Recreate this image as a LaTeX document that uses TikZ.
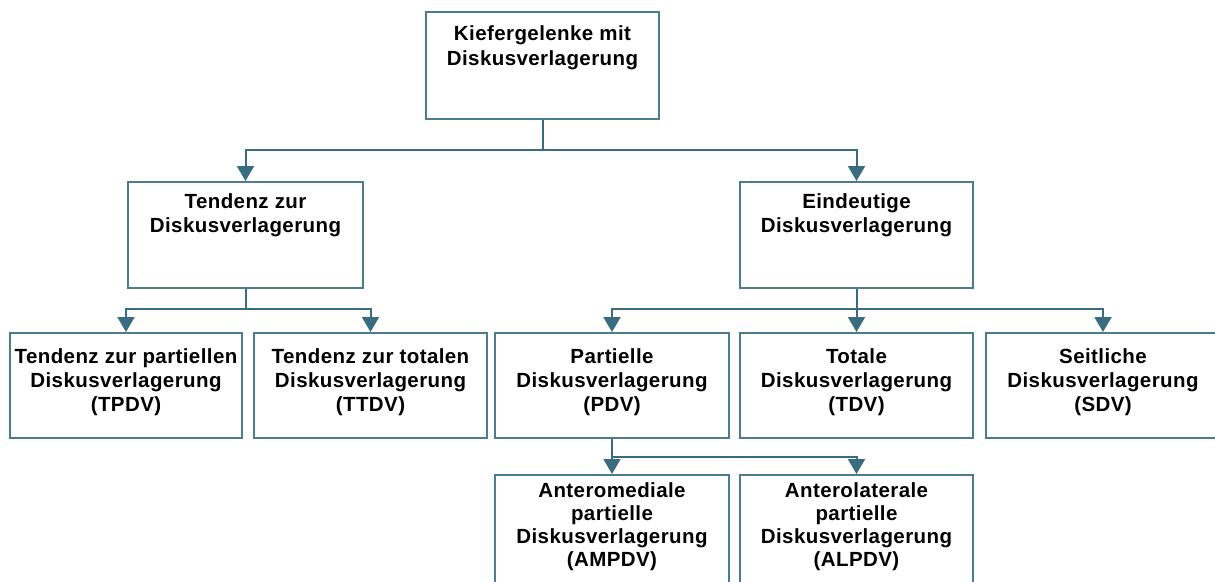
\documentclass[tikz,border=0pt]{standalone}
\usepackage{fontspec}
\newfontfamily\boxfont{Liberation Sans}[LetterSpace=2]
\usetikzlibrary{arrows.meta}
\definecolor{boxline}{HTML}{4D7C8F}
\definecolor{connline}{HTML}{3A6C80}
\tikzset{
  box/.style={draw=boxline, line width=2pt, fill=white, rectangle, inner sep=0pt},
  boxtxt/.style={anchor=north, inner sep=0pt, align=center,
    font=\boxfont\bfseries\fontsize{20.5pt}{24.5pt}\selectfont},
  tighttxt/.style={boxtxt, font=\boxfont\bfseries\fontsize{20.5pt}{23pt}\selectfont},
  conn/.style={draw=connline, line width=2pt,
    -{Triangle[length=15pt,width=17pt]}},
  plain/.style={draw=connline, line width=2pt}
}
\begin{document}
\begin{tikzpicture}[x=1pt,y=-1pt]
\useasboundingbox (0,0) rectangle (1215,581);

% boxes
\node[box, minimum width=233pt, minimum height=107pt] (root) at (542.5,65.5) {};
\node[box, minimum width=235pt, minimum height=106pt] (tend) at (245.5,235) {};
\node[box, minimum width=233pt, minimum height=106pt] (eind) at (856.5,235) {};
\node[box, minimum width=232pt, minimum height=105pt] (tpdv) at (126,385.5) {};
\node[box, minimum width=233pt, minimum height=105pt] (ttdv) at (370.5,385.5) {};
\node[box, minimum width=234pt, minimum height=105pt] (pdv) at (612,385.5) {};
\node[box, minimum width=233pt, minimum height=105pt] (tdv) at (856.5,385.5) {};
\node[box, minimum width=234pt, minimum height=105pt] (sdv) at (1103,385.5) {};
\node[box, minimum width=234pt, minimum height=112pt] (ampdv) at (612,531) {};
\node[box, minimum width=233pt, minimum height=112pt] (alpdv) at (856.5,531) {};

% labels
\node[boxtxt] (rootT) at ([yshift=-14.5pt]root.north) {Kiefergelenke mit\\Diskusverlagerung};
\node[boxtxt] (tendT) at ([yshift=-12pt]tend.north) {Tendenz zur\\Diskusverlagerung};
\node[boxtxt] (eindT) at ([yshift=-12pt]eind.north) {Eindeutige\\Diskusverlagerung};
\node[boxtxt, font=\boxfont\bfseries\fontsize{20.5pt}{24pt}\selectfont] (tpdvT) at ([yshift=-16pt]tpdv.north) {Tendenz zur partiellen\\Diskusverlagerung\\(TPDV)};
\node[boxtxt, font=\boxfont\bfseries\fontsize{20.5pt}{24pt}\selectfont] (ttdvT) at ([yshift=-16pt]ttdv.north) {Tendenz zur totalen\\Diskusverlagerung\\(TTDV)};
\node[boxtxt, font=\boxfont\bfseries\fontsize{20.5pt}{24pt}\selectfont] (pdvT) at ([yshift=-16pt]pdv.north) {Partielle\\Diskusverlagerung\\(PDV)};
\node[boxtxt, font=\boxfont\bfseries\fontsize{20.5pt}{24pt}\selectfont] (tdvT) at ([yshift=-16pt]tdv.north) {Totale\\Diskusverlagerung\\(TDV)};
\node[boxtxt, font=\boxfont\bfseries\fontsize{20.5pt}{24pt}\selectfont] (sdvT) at ([yshift=-16pt]sdv.north) {Seitliche\\Diskusverlagerung\\(SDV)};
\node[tighttxt] (ampdvT) at ([yshift=-8pt]ampdv.north) {Anteromediale\\partielle\\Diskusverlagerung\\(AMPDV)};
\node[tighttxt] (alpdvT) at ([yshift=-8pt]alpdv.north) {Anterolaterale\\partielle\\Diskusverlagerung\\(ALPDV)};

% bus junctions
\coordinate (busA) at (542.5,150);
\coordinate (busB) at (245.5,309);
\coordinate (busC) at (856.5,309);
\coordinate (busD) at (612,457);

% connectors
\draw[plain] (root.south) -- (busA);
\draw[conn] (busA) -| (tend.north);
\draw[conn] (busA) -| (eind.north);

\draw[plain] (tend.south) -- (busB);
\draw[conn] (busB) -| (tpdv.north);
\draw[conn] (busB) -| (ttdv.north);

\draw[conn] (eind.south) -- (tdv.north);
\draw[conn] (busC) -| (pdv.north);
\draw[conn] (busC) -| (sdv.north);

\draw[conn] (pdv.south) -- (ampdv.north);
\draw[conn] (busD) -| (alpdv.north);
\end{tikzpicture}
\end{document}
